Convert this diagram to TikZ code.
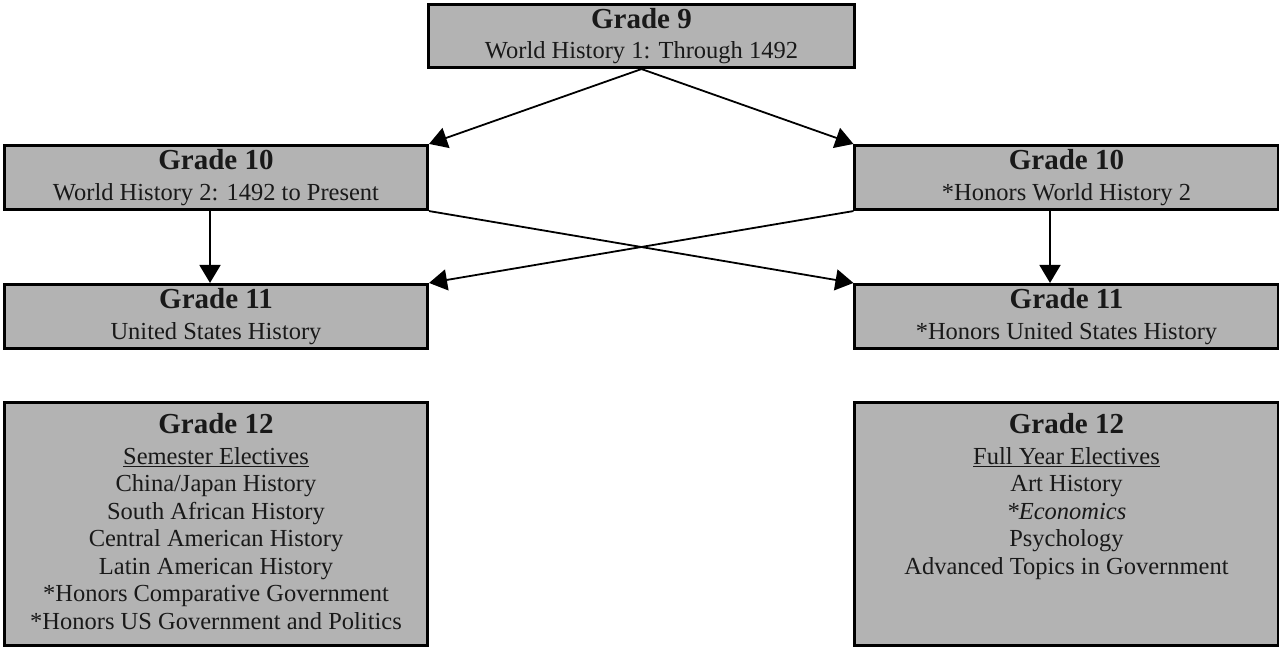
\documentclass[tikz,border=0pt]{standalone}
\usepackage{fontspec}
\setmainfont{Liberation Serif}
\usetikzlibrary{positioning,arrows.meta}
\definecolor{boxgray}{RGB}{179,179,179}
\newcommand{\gradehead}[1]{{\fontsize{29}{30}\selectfont\bfseries #1}}
\newcommand{\electives}[1]{\parbox[c][221pt][t]{410pt}{\centering #1}}
\tikzset{
    gradebox/.style={draw, rectangle, line width=2.6pt, fill=boxgray, align=center,
        minimum width=423.5pt, minimum height=64.5pt, inner sep=0pt,
        font=\fontsize{24.5}{27.5}\selectfont, text=black!90},
}
\begin{document}
\begin{tikzpicture}[x=1pt, y=1pt, >={Triangle[length=18pt, width=21pt]}, line width=1.8pt]
    \useasboundingbox (0,0) rectangle (1279,-650);
    % Nodes
    \node [gradebox, minimum width=426.5pt, minimum height=63.5pt] (g9) at (641.5,-36) {\gradehead{Grade 9}\\[3pt] World History 1: Through 1492};
    \node [gradebox] (g10l) at (216,-177.5) {\gradehead{Grade 10}\\[3pt] World History 2: 1492 to Present};
    \node [gradebox, right of=g10l, node distance=850.5pt] (g10r) {\gradehead{Grade 10}\\[3pt] {*}Honors World History 2};
    \node [gradebox, below of=g10l, node distance=139pt] (g11l) {\gradehead{Grade 11}\\[3pt] United States History};
    \node [gradebox, below of=g10r, node distance=139pt] (g11r) {\gradehead{Grade 11}\\[3pt] {*}Honors United States History};
    \node [gradebox, minimum height=243.5pt, below of=g11l, node distance=207.5pt] (g12l) {\electives{\gradehead{Grade 12}\\[3pt] \underline{Semester Electives}\\ China/Japan History\\ South African History\\ Central American History\\ Latin American History\\ {*}Honors Comparative Government\\ {*}Honors US Government and Politics}};
    \node [gradebox, minimum height=243.5pt, below of=g11r, node distance=207.5pt] (g12r) {\electives{\gradehead{Grade 12}\\[3pt] \underline{Full Year Electives}\\ Art History\\ \textit{*Economics}\\ Psychology\\ Advanced Topics in Government}};

    % Connections
    \draw [->] (g9.south) -- (g10l.north east);
    \draw [->] (g9.south) -- (g10r.north west);
    \draw [->] ([xshift=-6pt]g10l.south) -- ([xshift=-6pt]g11l.north);
    \draw [->] ([xshift=-16.5pt]g10r.south) -- ([xshift=-16.5pt]g11r.north);
    \draw [->] (g10l.south east) -- (g11r.north west);
    \draw [->] (g10r.south west) -- (g11l.north east);
\end{tikzpicture}
\end{document}
